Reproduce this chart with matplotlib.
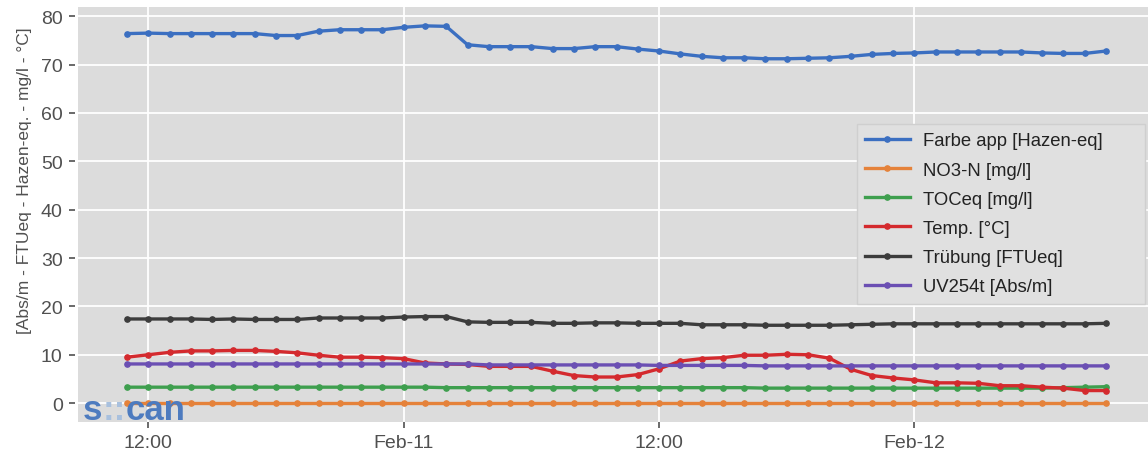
import matplotlib.pyplot as plt
import pandas as pd

# data (hourly readings)
start_time = '2021-02-10 11:00'
n_points = 47
times = pd.date_range(start_time, periods=n_points, freq='h')

farbe = [76.4, 76.5, 76.4, 76.4, 76.4, 76.4, 76.4, 76.0, 76.0, 76.9, 77.2, 77.2, 77.2,
         77.7, 78.0, 77.9, 74.1, 73.7, 73.7, 73.7, 73.3, 73.3, 73.7, 73.7, 73.2, 72.8,
         72.2, 71.7, 71.4, 71.4, 71.2, 71.2, 71.3, 71.4, 71.7, 72.1, 72.3, 72.4, 72.6,
         72.6, 72.6, 72.6, 72.6, 72.4, 72.3, 72.3, 72.8]
no3n = [0.0, 0.0, 0.0, 0.0, 0.0, 0.0, 0.0, 0.0, 0.0, 0.0, 0.0, 0.0, 0.0, 0.0, 0.0, 0.0,
        0.0, 0.0, 0.0, 0.0, 0.0, 0.0, 0.0, 0.0, 0.0, 0.0, 0.0, 0.0, 0.0, 0.0, 0.0, 0.0,
        0.0, 0.0, 0.0, 0.0, 0.0, 0.0, 0.0, 0.0, 0.0, 0.0, 0.0, 0.0, 0.0, 0.0, 0.0]
toc = [3.3, 3.3, 3.3, 3.3, 3.3, 3.3, 3.3, 3.3, 3.3, 3.3, 3.3, 3.3, 3.3, 3.3, 3.3, 3.2,
       3.2, 3.2, 3.2, 3.2, 3.2, 3.2, 3.2, 3.2, 3.2, 3.2, 3.2, 3.2, 3.2, 3.2, 3.1, 3.1,
       3.1, 3.1, 3.1, 3.1, 3.1, 3.1, 3.1, 3.1, 3.1, 3.1, 3.1, 3.1, 3.2, 3.3, 3.4]
temp = [9.5, 10.0, 10.5, 10.8, 10.8, 10.9, 10.9, 10.7, 10.4, 9.9, 9.5, 9.5, 9.4,
        9.2, 8.3, 8.1, 8.0, 7.6, 7.6, 7.6, 6.6, 5.7, 5.4, 5.4, 5.9, 7.1, 8.7, 9.2,
        9.4, 9.9, 9.9, 10.1, 10.0, 9.3, 7.0, 5.7, 5.2, 4.8, 4.2, 4.2, 4.1, 3.6, 3.6,
        3.3, 3.1, 2.6, 2.6]
truebung = [17.4, 17.4, 17.4, 17.4, 17.3, 17.4, 17.3, 17.3, 17.3, 17.6, 17.6, 17.6, 17.6,
            17.8, 17.9, 17.9, 16.8, 16.7, 16.7, 16.7, 16.5, 16.5, 16.6, 16.6, 16.5, 16.5,
            16.5, 16.2, 16.2, 16.2, 16.1, 16.1, 16.1, 16.1, 16.2, 16.3, 16.4, 16.4, 16.4,
            16.4, 16.4, 16.4, 16.4, 16.4, 16.4, 16.4, 16.5]
uv254 = [8.1, 8.1, 8.1, 8.1, 8.1, 8.1, 8.1, 8.1, 8.1, 8.1, 8.1, 8.1, 8.1, 8.1, 8.1, 8.1,
         8.1, 7.9, 7.9, 7.9, 7.9, 7.9, 7.9, 7.9, 7.9, 7.8, 7.8, 7.8, 7.8, 7.8, 7.7, 7.7,
         7.7, 7.7, 7.7, 7.7, 7.7, 7.7, 7.7, 7.7, 7.7, 7.7, 7.7, 7.7, 7.7, 7.7, 7.7]

labels = ['Farbe app [Hazen-eq]', 'NO3-N [mg/l]', 'TOCeq [mg/l]',
          'Temp. [°C]', 'Trübung [FTUeq]', 'UV254t [Abs/m]']
series = [farbe, no3n, toc, temp, truebung, uv254]
colors = ['#3b6fc1', '#e5823a', '#3e9f4e', '#d42a2e', '#3c3c3c', '#6b4fb3']

tick_times = pd.to_datetime(['2021-02-10 12:00', '2021-02-11 00:00',
                             '2021-02-11 12:00', '2021-02-12 00:00'])
tick_labels = ['12:00', 'Feb-11', '12:00', 'Feb-12']

plt.rcParams['font.family'] = ['Liberation Sans', 'DejaVu Sans']

W, H = 1148, 456
fig = plt.figure(figsize=(W / 100, H / 100), dpi=100)
# axes runs a little past the right edge, like the cropped original
ax = fig.add_axes([78 / W, (H - 423) / H, 1077 / W, 415 / H])
ax.set_facecolor('#dcdcdc')

for vals, lab, col in zip(series, labels, colors):
    ax.plot(times, vals, color=col, lw=2.4, marker='o', ms=3.8, label=lab)

ax.margins(x=0.05, y=0.05)
ax.set_xticks(tick_times)
ax.set_xticklabels(tick_labels)
ax.set_yticks([0, 10, 20, 30, 40, 50, 60, 70, 80])

ax.grid(True, color='white', lw=1.3)
ax.set_axisbelow(True)
for s in ax.spines.values():
    s.set_visible(False)
ax.spines['left'].set_position(('outward', 2))
ax.tick_params(axis='both', colors='#505050', labelsize=14, length=4.5, width=1.2,
               direction='out', pad=4.5)
ax.tick_params(axis='x', pad=4)

ax.set_ylabel('[Abs/m - FTUeq - Hazen-eq. - mg/l - °C]', fontsize=12.5, color='#505050')
ax.yaxis.set_label_coords(-0.043, 0.585)

# legend box stretched to the width seen in the original
leg = ax.legend(loc='upper left',
                bbox_to_anchor=(857 / W, (H - 305) / H, (1145 - 857) / W, (305 - 125) / H),
                bbox_transform=fig.transFigure, mode='expand', borderaxespad=0,
                fontsize=13.3, handlelength=2.4, handletextpad=0.7, labelspacing=0.66,
                borderpad=0.45, fancybox=False, framealpha=1)
leg.get_frame().set_facecolor('#e0e0e0')
leg.get_frame().set_edgecolor('#cfcfcf')
for t in leg.get_texts():
    t.set_color('#222222')

# s::can logo
logo_y = 0.007
ax.text(0.0046, logo_y, 's', transform=ax.transAxes, fontsize=25, fontweight='bold',
        color='#4d7bbf', ha='left', va='baseline', zorder=5)
ax.text(0.0228, logo_y, '::', transform=ax.transAxes, fontsize=25, fontweight='bold',
        color='#a8c0de', ha='left', va='baseline', zorder=5)
ax.text(0.0445, logo_y, 'can', transform=ax.transAxes, fontsize=25, fontweight='bold',
        color='#4d7bbf', ha='left', va='baseline', zorder=5)

fig.savefig('out.png', dpi=100)
plt.close(fig)
